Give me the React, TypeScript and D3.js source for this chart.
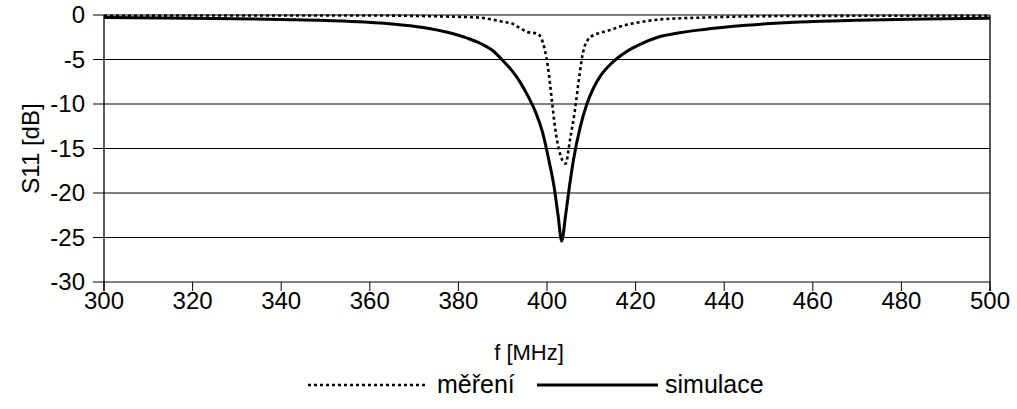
import React from 'react';
import * as d3 from 'd3';

// simulace (frequency MHz, S11 dB)
const simFreq = [300, 320, 340, 355, 365, 372, 378, 382, 385, 388, 390, 392, 394, 396, 397.5, 399, 400.5, 401.5, 402.5, 403.3, 404.2, 405, 406, 407.5, 409, 410.5, 412, 414, 416, 418, 421, 425, 430, 435, 445, 457, 470, 485, 500];
const simS11 = [-0.28, -0.36, -0.5, -0.7, -1.0, -1.4, -2.0, -2.6, -3.2, -4.1, -5.1, -6.2, -7.6, -9.4, -11.0, -13.2, -16.5, -19.0, -22.5, -25.4, -22.5, -19.5, -16.2, -12.6, -10.0, -8.2, -6.9, -5.7, -4.8, -4.1, -3.3, -2.5, -2.0, -1.65, -1.15, -0.78, -0.58, -0.44, -0.35];

// měření
const measFreq = [300, 330, 358, 375, 385, 388, 390, 392.3, 394, 395.5, 397.8, 398.7, 399.5, 400.2, 401.1, 401.8, 402.9, 404.2, 405.2, 406.3, 407.4, 408.1, 409.2, 410.8, 412, 414.2, 416.5, 421, 425.5, 434.5, 446, 460, 500];
const measS11 = [-0.1, -0.05, -0.05, -0.15, -0.3, -0.55, -0.75, -1.0, -1.5, -1.9, -2.1, -2.6, -3.9, -5.8, -9.6, -12.6, -15.5, -16.7, -14.0, -10.7, -6.5, -4.3, -2.8, -2.2, -2.0, -1.7, -1.3, -0.8, -0.5, -0.3, -0.15, -0.1, -0.08];

const xTicks = [300, 320, 340, 360, 380, 400, 420, 440, 460, 480, 500];
const yTicks = [0, -5, -10, -15, -20, -25, -30];

const width = 1017;
const height = 409;
const margin = { top: 15, right: 27, bottom: 127, left: 104 };
const font = 'Liberation Sans, Arial, sans-serif';

export default function App() {
  const x = d3.scaleLinear().domain([300, 500]).range([margin.left, width - margin.right]);
  const y = d3.scaleLinear().domain([-30, 0]).range([height - margin.bottom, margin.top]);

  const line = d3
    .line<[number, number]>()
    .x((d) => x(d[0]))
    .y((d) => y(d[1]))
    .curve(d3.curveMonotoneX);

  const sim = simFreq.map((f, i) => [f, simS11[i]] as [number, number]);
  const meas = measFreq.map((f, i) => [f, measS11[i]] as [number, number]);

  const x0 = x(300);
  const x1 = x(500);
  const yBottom = y(-30);

  return (
    <svg width={width} height={height} style={{ position: 'absolute', left: 0, top: 0, background: '#fff' }}>
      {/* grid + y ticks */}
      {yTicks.map((t) => (
        <g key={t}>
          <line x1={x0 - 11} x2={x1} y1={y(t)} y2={y(t)} stroke="#000" strokeWidth={1} />
          <text x={x0 - 19} y={y(t)} dy="0.35em" textAnchor="end" fontFamily={font} fontSize={24}>
            {t}
          </text>
        </g>
      ))}
      {/* axes frame */}
      <line x1={x0} x2={x0} y1={margin.top} y2={yBottom + 9} stroke="#000" strokeWidth={1.3} />
      <line x1={x1} x2={x1} y1={margin.top} y2={yBottom + 9} stroke="#000" strokeWidth={1.3} />
      {xTicks.map((t) => (
        <g key={t}>
          <line x1={x(t)} x2={x(t)} y1={yBottom} y2={yBottom + 9} stroke="#000" strokeWidth={1} />
          <text x={x(t)} y={yBottom + 27} textAnchor="middle" fontFamily={font} fontSize={24}>
            {t}
          </text>
        </g>
      ))}

      {/* series */}
      <path d={line(meas) || ''} fill="none" stroke="#000" strokeWidth={2.6} strokeDasharray="3,3" />
      <path d={line(sim) || ''} fill="none" stroke="#000" strokeWidth={3} />

      {/* axis titles */}
      <text x={529} y={360} textAnchor="middle" fontFamily={font} fontSize={22}>
        f [MHz]
      </text>
      <text transform={`translate(39,${(margin.top + yBottom) / 2}) rotate(-90)`} textAnchor="middle" fontFamily={font} fontSize={24}>
        S11 [dB]
      </text>

      {/* legend */}
      <line x1={308} x2={427} y1={385} y2={385} stroke="#000" strokeWidth={2.6} strokeDasharray="3,3" />
      <text x={437} y={393} fontFamily={font} fontSize={25}>
        měření
      </text>
      <line x1={537} x2={658} y1={385} y2={385} stroke="#000" strokeWidth={3} />
      <text x={665} y={393} fontFamily={font} fontSize={25}>
        simulace
      </text>
    </svg>
  );
}
